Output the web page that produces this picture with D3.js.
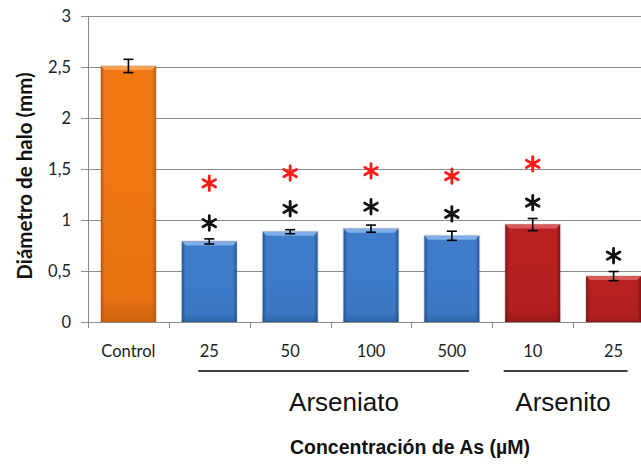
<!DOCTYPE html>
<html>
<head>
<meta charset="utf-8">
<script src="https://cdn.jsdelivr.net/npm/d3@7"></script>
<style>
  html, body { margin: 0; padding: 0; background: #fff; }
  svg { display: block; }
</style>
</head>
<body>
<svg id="chart" width="641" height="466"></svg>
<script>
// Halo diameter per treatment
const categories = ["Control", "25", "50", "100", "500", "10", "25"];
const groupOf    = ["control", "arseniato", "arseniato", "arseniato", "arseniato", "arsenito", "arsenito"];
const values     = [2.51, 0.79, 0.885, 0.915, 0.845, 0.955, 0.45];
const errors     = [0.065, 0.025, 0.02, 0.035, 0.045, 0.06, 0.045];
// Significance marks (y position in data units, null = none)
const redStars   = [null, 1.36, 1.46, 1.48, 1.43, 1.55, null];
const blackStars = [null, 0.97, 1.11, 1.13, 1.06, 1.17, 0.65];
const yTicks     = [0, 0.5, 1, 1.5, 2, 2.5, 3];
const groups     = [
  { name: "Arseniato", first: 1, last: 4 },
  { name: "Arsenito",  first: 5, last: 6 }
];

const palette = {
  control:   { base: "#F07814", light: "#F9A14E", dark: "#B9550A" },
  arseniato: { base: "#3F7DCB", light: "#7FAEE6", dark: "#24528F" },
  arsenito:  { base: "#B82122", light: "#DA5A5A", dark: "#7F1314" }
};

const svg = d3.select("#chart");
const plotLeft = 88, plotTop = 16, plotBottom = 322, plotRight = 654;

const x = d3.scaleBand()
  .domain(d3.range(categories.length))
  .range([plotLeft, plotRight])
  .paddingInner(0.32)
  .paddingOuter(0.16);

const y = d3.scaleLinear().domain([0, 3]).range([plotBottom, plotTop]);

// Gradients for bevelled bars
const defs = svg.append("defs");
Object.entries(palette).forEach(([k, c]) => {
  const g = defs.append("linearGradient").attr("id", "side-" + k)
    .attr("x1", 0).attr("x2", 1).attr("y1", 0).attr("y2", 0);
  g.append("stop").attr("offset", 0).attr("stop-color", c.dark);
  g.append("stop").attr("offset", 0.07).attr("stop-color", c.base);
  g.append("stop").attr("offset", 0.93).attr("stop-color", c.base);
  g.append("stop").attr("offset", 1).attr("stop-color", c.dark);
  const v = defs.append("linearGradient").attr("id", "vert-" + k)
    .attr("x1", 0).attr("x2", 0).attr("y1", 0).attr("y2", 1);
  v.append("stop").attr("offset", 0).attr("stop-color", c.base).attr("stop-opacity", 0);
  v.append("stop").attr("offset", 0.9).attr("stop-color", c.dark).attr("stop-opacity", 0.15);
  v.append("stop").attr("offset", 1).attr("stop-color", c.dark).attr("stop-opacity", 0.6);
});

// Gridlines
svg.append("g").selectAll("line").data(yTicks.filter(t => t > 0)).join("line")
  .attr("x1", plotLeft).attr("x2", 641)
  .attr("y1", d => y(d)).attr("y2", d => y(d))
  .attr("stroke", "#8c8c8c").attr("stroke-width", 1)
  .attr("shape-rendering", "crispEdges");

// Y axis
const yAxis = svg.append("g").attr("transform", `translate(${plotLeft},0)`)
  .call(d3.axisLeft(y).tickValues(yTicks).tickSize(7).tickPadding(10)
    .tickFormat(d => String(d).replace(".", ",")));
yAxis.select(".domain").attr("stroke", "#8c8c8c").attr("shape-rendering", "crispEdges");
yAxis.selectAll(".tick line").attr("stroke", "#8c8c8c").attr("shape-rendering", "crispEdges");
yAxis.selectAll(".tick text").attr("font-family", "Lato, 'Open Sans', sans-serif")
  .attr("font-size", 16.5).attr("fill", "#222");

// Bars
const bars = svg.append("g").selectAll("g").data(values).join("g");
bars.append("rect")
  .attr("x", (d, i) => x(i)).attr("width", x.bandwidth())
  .attr("y", d => y(d)).attr("height", d => plotBottom - y(d))
  .attr("fill", (d, i) => `url(#side-${groupOf[i]})`);
bars.append("rect")
  .attr("x", (d, i) => x(i)).attr("width", x.bandwidth())
  .attr("y", d => y(d)).attr("height", d => plotBottom - y(d))
  .attr("fill", (d, i) => `url(#vert-${groupOf[i]})`);
// Top bevel
bars.append("path")
  .attr("d", (d, i) => {
    const x0 = x(i), x1 = x(i) + x.bandwidth(), t = y(d);
    return `M${x0},${t}L${x1},${t}L${x1 - 4},${t + 4}L${x0 + 4},${t + 4}Z`;
  })
  .attr("fill", (d, i) => palette[groupOf[i]].light);
bars.append("rect")
  .attr("x", (d, i) => x(i) - 0.5).attr("width", x.bandwidth() + 1)
  .attr("y", d => y(d) - 0.5).attr("height", d => plotBottom - y(d) + 0.5)
  .attr("fill", "none").attr("stroke", "#000").attr("stroke-opacity", 0.12);

// X axis baseline and category separators
svg.append("line").attr("x1", plotLeft).attr("x2", 641)
  .attr("y1", plotBottom + 0.5).attr("y2", plotBottom + 0.5)
  .attr("stroke", "#8c8c8c");
svg.append("g").selectAll("line").data(d3.range(categories.length + 1)).join("line")
  .attr("x1", i => Math.round(plotLeft + i * x.step()) + 0.5)
  .attr("x2", i => Math.round(plotLeft + i * x.step()) + 0.5)
  .attr("y1", plotBottom).attr("y2", plotBottom + 6)
  .attr("stroke", "#8c8c8c");

// Error bars
const eb = svg.append("g").attr("stroke", "#000").attr("stroke-width", 1.6);
values.forEach((v, i) => {
  const cx = x(i) + x.bandwidth() / 2;
  const top = y(v + errors[i]), bot = y(v - errors[i]);
  eb.append("line").attr("x1", cx).attr("x2", cx).attr("y1", top).attr("y2", bot);
  eb.append("line").attr("x1", cx - 5).attr("x2", cx + 5).attr("y1", top).attr("y2", top);
  eb.append("line").attr("x1", cx - 5).attr("x2", cx + 5).attr("y1", bot).attr("y2", bot);
});

// Significance asterisks
const star = d3.symbol().type(d3.symbolAsterisk).size(150);
function drawStars(list, color) {
  svg.append("g").selectAll("path")
    .data(list.map((v, i) => ({ v, i })).filter(d => d.v !== null))
    .join("path")
    .attr("d", star)
    .attr("transform", d => `translate(${x(d.i) + x.bandwidth() / 2},${y(d.v)})`)
    .attr("fill", "none").attr("stroke", color)
    .attr("stroke-width", 2.8).attr("stroke-linecap", "round");
}
drawStars(redStars, "#ff1a1a");
drawStars(blackStars, "#111");

// Category labels
svg.append("g").selectAll("text").data(categories).join("text")
  .attr("x", (d, i) => x(i) + x.bandwidth() / 2)
  .attr("y", 357)
  .attr("text-anchor", "middle")
  .attr("font-family", "Lato, 'Open Sans', sans-serif")
  .attr("font-size", 16.5).attr("fill", "#222")
  .text(d => d);

// Group brackets and names
const groupLayout = { Arseniato: [-11, 17, 344], Arsenito: [-29, 14, 563] };
groups.forEach(g => {
  const [padL, padR, cx] = groupLayout[g.name];
  const xs = x(g.first) + x.bandwidth() / 2 + padL;
  const xe = x(g.last) + x.bandwidth() / 2 + padR;
  svg.append("line").attr("x1", xs).attr("x2", xe)
    .attr("y1", 371).attr("y2", 371)
    .attr("stroke", "#000").attr("stroke-width", 1.6);
  svg.append("text").attr("x", cx).attr("y", 411)
    .attr("text-anchor", "middle")
    .attr("font-family", "'Liberation Sans', Arial, sans-serif")
    .attr("font-size", 26).attr("fill", "#111")
    .text(g.name);
});

// Axis titles
svg.append("text").attr("x", 410).attr("y", 454)
  .attr("text-anchor", "middle")
  .attr("font-family", "'Liberation Sans', Arial, sans-serif")
  .attr("font-weight", "bold").attr("font-size", 19.5).attr("fill", "#111")
  .text("Concentración de As (µM)");

svg.append("text")
  .attr("transform", "translate(32,176) rotate(-90)")
  .attr("text-anchor", "middle")
  .attr("font-family", "Lato, 'Open Sans', sans-serif")
  .attr("font-weight", "bold").attr("font-size", 20.5).attr("fill", "#111")
  .text("Diámetro de halo (mm)");
</script>
</body>
</html>
